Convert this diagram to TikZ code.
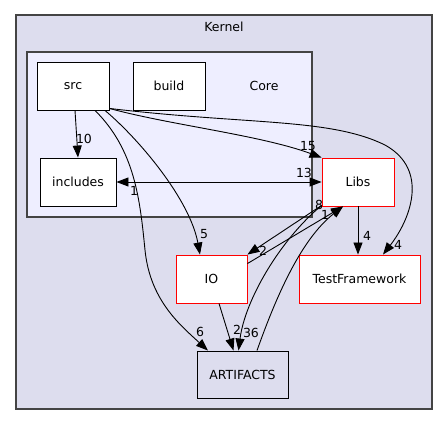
\documentclass[tikz,border=0pt]{standalone}
\usepackage{fontspec}
\setmainfont{DejaVu Sans}
\usepackage{tikz}
\usetikzlibrary{calc,arrows.meta,positioning}
\definecolor{kernelbg}{HTML}{DDDDEE}
\definecolor{corebg}{HTML}{EEEEFF}
\definecolor{clusterline}{HTML}{444444}

\begin{document}
\begin{tikzpicture}[x=1pt,y=-1pt,
	every node/.style={font=\fontsize{12.5}{15}\selectfont},
	dir/.style={draw=black,fill=white,line width=0.9pt,minimum width=72pt,minimum height=48pt,inner sep=0pt},
	ext/.style={dir,draw=red},
	lbl/.style={inner sep=0pt},
	dep/.style={line width=0.9pt,-{Triangle[length=12pt,width=9pt]}}]
	\useasboundingbox (0,0) rectangle (448,425);
	% clusters
	\draw[clusterline,fill=kernelbg,line width=1.2pt] (16,15) rectangle (432,409);
	\node (kernel) at (224,27) {Kernel};
	\draw[clusterline,fill=corebg,line width=1.1pt] (27,52) rectangle (312,217);
	\node (core) at (264,86) {Core};
	% directories
	\node[dir] (src) at (73,86) {src};
	\node[dir] (build) at (169,86) {build};
	\node[dir,minimum width=76pt] (includes) at (78,182) {includes};
	\node[ext] (Libs) at (358,182) {Libs};
	\node[ext,minimum width=71pt] (IO) at (211.5,279) {IO};
	\node[ext,minimum width=121pt] (TF) at (359.5,279) {TestFramework};
	\node[dir,fill=none,minimum width=91pt,minimum height=47pt] (ART) at (242.5,374.5) {ARTIFACTS};
	% dependencies
	\draw[dep] ([xshift=2pt]src.south) -- (includes.north);
	\draw[dep] ([yshift=2pt]src.south east) .. controls (170,125) and (260,135) .. (Libs.north west);
	\draw[dep] ([yshift=2pt]src.south east) .. controls (250,125) and (330,118) .. (385,145)
		.. controls (430,170) and (410,220) .. ([xshift=23.5pt]TF.north);
	\draw[dep] ([xshift=32pt]src.south) .. controls (140,140) and (190,200) .. ([xshift=-11.5pt]IO.north);
	\draw[dep] ([xshift=22pt]src.south) .. controls (135,150) and (140,200) .. (145,250)
		.. controls (150,300) and (180,325) .. ([xshift=-34.5pt]ART.north);
	\draw[dep,{Triangle[length=12pt,width=9pt]}-{Triangle[length=12pt,width=9pt]}] (includes.east) -- (Libs.west);
	\draw[dep] ([yshift=1pt]Libs.south west) -- (IO.north east);
	\draw[dep] ([yshift=-9pt]IO.north east) -- ([xshift=-15pt]Libs.south);
	\draw[dep] ([yshift=1pt]Libs.south west) .. controls (280,240) and (245,300) .. ([xshift=-4pt]ART.north);
	\draw[dep] ([xshift=14.5pt]ART.north) .. controls (275,300) and (300,240) .. ([xshift=-15pt]Libs.south);
	\draw[dep] ([xshift=7.5pt]IO.south) -- ([xshift=-9pt]ART.north);
	\draw[dep] (Libs.south) -- (Libs.south |- TF.north);
	% counts
	\node[lbl] (n10) at (84,139) {10};
	\node[lbl] (n15) at (308,146) {15};
	\node[lbl] (n4a) at (398,245) {4};
	\node[lbl] (n5) at (204,234) {5};
	\node[lbl] (n6) at (200,332) {6};
	\node[lbl] (n13) at (304,173) {13};
	\node[lbl] (n1a) at (134,191) {1};
	\node[lbl] (n2a) at (263,251) {2};
	\node[lbl] (n8) at (319,205) {8};
	\node[lbl] (n1b) at (325,215) {1};
	\node[lbl] (n36) at (251,333) {36};
	\node[lbl] (n2b) at (237,330) {2};
	\node[lbl] (n4b) at (367,236) {4};
\end{tikzpicture}
\end{document}
